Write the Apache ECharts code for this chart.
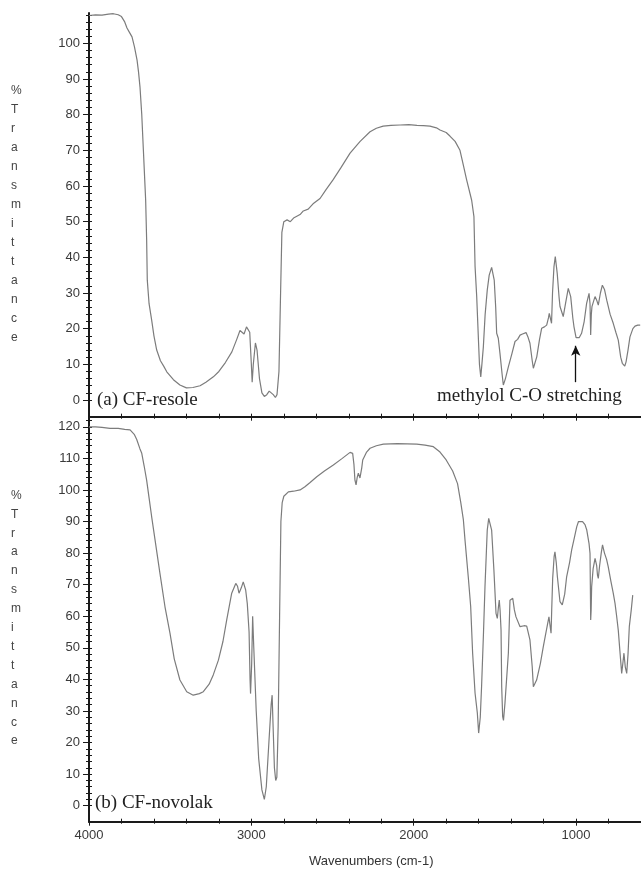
<!DOCTYPE html>
<html>
<head>
<meta charset="utf-8">
<title>FTIR spectra</title>
<script src="https://cdn.jsdelivr.net/npm/echarts@6/dist/echarts.min.js"></script>
<style>
  html, body { margin: 0; padding: 0; background: #fff; }
  #chart { width: 641px; height: 871px; }
</style>
</head>
<body>
<div id="chart"></div>
<script>
/* FTIR spectra of the two resins */

// (a) CF-resole : wavenumber (cm-1) and %T
var resoleWave = [4000, 3960, 3920, 3880, 3850, 3820, 3800, 3780, 3766, 3750, 3735, 3720, 3704, 3695, 3686, 3675, 3665, 3657, 3651, 3645,
  3641, 3630, 3614, 3600, 3583, 3560, 3540, 3521, 3480, 3440, 3400, 3360, 3316, 3280, 3234, 3200, 3160, 3120, 3090, 3070,
  3060, 3045, 3030, 3020, 3010, 3000, 2995, 2988, 2975, 2965, 2950, 2935, 2920, 2905, 2890, 2878, 2865, 2852, 2842, 2830,
  2820, 2812, 2800, 2780, 2760, 2740, 2720, 2700, 2680, 2650, 2620, 2577, 2540, 2497, 2450, 2392, 2330, 2269, 2230, 2188,
  2140, 2084, 2030, 1980, 1940, 1900, 1860, 1838, 1800, 1777, 1745, 1715, 1695, 1674, 1643, 1629, 1622, 1612, 1602, 1595,
  1587, 1580, 1571, 1560, 1547, 1535, 1520, 1504, 1495, 1489, 1479, 1469, 1455, 1448, 1435, 1417, 1395, 1376, 1360, 1345,
  1330, 1308, 1295, 1284, 1270, 1263, 1242, 1225, 1212, 1195, 1181, 1170, 1165, 1151, 1145, 1136, 1128, 1116, 1105, 1099,
  1079, 1065, 1048, 1033, 1020, 1013, 1000, 992, 980, 966, 950, 935, 920, 914, 910, 906, 902, 890, 883, 873,
  863, 850, 838, 825, 811, 790, 771, 755, 740, 725, 715, 705, 700, 692, 680, 668, 650, 637, 620, 605];
var resoleT = [107.8, 108.0, 107.9, 108.2, 108.3, 108.0, 107.5, 106, 104.3, 103, 101.8, 99, 95.3, 92, 87.8, 80, 70, 62, 56, 45,
  33.6, 27, 22.4, 18, 14, 11, 9.5, 7.9, 5.7, 4.2, 3.4, 3.5, 4.0, 5, 6.5, 8, 10.5, 13.5, 17, 19.5,
  19.8, 18.5, 20.5, 21, 19, 10, 5, 10, 16, 14, 6, 2, 1, 1.5, 2.5, 3, 1.5, 0.7, 1.5, 8,
  30, 47, 50, 50.5, 50, 51, 51.5, 52, 53, 53.5, 55, 56.5, 59, 61.7, 65, 69.2, 72.5, 75.2, 76.2, 76.8,
  77, 77.1, 77.2, 77.0, 76.9, 76.8, 76.3, 75.7, 75, 74, 72.5, 70, 66, 61.7, 56, 51.4, 37.4, 29, 17.7, 10,
  6.5, 10, 14.9, 24, 30.8, 35, 37.2, 33.6, 26, 18.7, 17.3, 13.2, 7, 4.2, 6, 9.3, 13, 16.4, 17, 18.2,
  18.5, 18.9, 17.5, 15.9, 11, 8.9, 12.1, 17, 20.1, 20.5, 21, 23, 24.3, 21.5, 30, 37.4, 40.2, 35.5, 29, 26.2,
  23.4, 27, 31.3, 29, 23, 20.6, 17.5, 17, 17.5, 18.7, 22, 27.1, 29.9, 27, 18.2, 24, 26.2, 28, 29, 28,
  26.6, 30, 32.2, 31, 28, 24, 21.5, 19, 16.8, 12, 10.3, 10.5, 9.5, 10.7, 14, 17.7, 20, 20.7, 21, 21];

// (b) CF-novolak : wavenumber (cm-1) and %T
var novolakWave = [4000, 3960, 3920, 3871, 3820, 3780, 3747, 3720, 3706, 3686, 3675, 3660, 3645, 3630, 3614, 3593, 3563, 3532, 3501, 3475,
  3440, 3398, 3358, 3320, 3296, 3260, 3234, 3203, 3175, 3152, 3121, 3096, 3085, 3076, 3062, 3050, 3035, 3025, 3014, 3008,
  3005, 2998, 2992, 2985, 2970, 2955, 2935, 2920, 2908, 2892, 2878, 2872, 2866, 2858, 2850, 2843, 2835, 2826, 2818, 2810,
  2800, 2772, 2740, 2700, 2670, 2640, 2597, 2550, 2495, 2440, 2392, 2376, 2368, 2362, 2355, 2348, 2341, 2331, 2320, 2314,
  2290, 2269, 2230, 2187, 2100, 2040, 1981, 1930, 1879, 1838, 1800, 1760, 1730, 1710, 1694, 1684, 1664, 1649, 1637, 1622,
  1608, 1600, 1595, 1590, 1582, 1570, 1561, 1547, 1538, 1530, 1520, 1506, 1493, 1485, 1478, 1473, 1468, 1462, 1458, 1452,
  1447, 1438, 1417, 1407, 1398, 1390, 1380, 1370, 1345, 1320, 1304, 1284, 1270, 1263, 1255, 1243, 1220, 1202, 1185, 1167,
  1160, 1154, 1150, 1144, 1135, 1130, 1122, 1115, 1099, 1085, 1070, 1058, 1040, 1027, 1010, 996, 985, 975, 960, 945,
  934, 920, 914, 912, 910, 907, 904, 895, 883, 873, 868, 863, 855, 845, 837, 825, 812, 802, 785, 771,
  760, 750, 740, 730, 719, 712, 705, 697, 688, 680, 672, 660, 651];
var novolakT = [120, 120, 119.8, 119.5, 119.5, 119.2, 119, 117.5, 116, 113, 111.6, 107.5, 103.1, 97.5, 91.5, 84.1, 73.6, 63, 54.6, 46.5,
  39.8, 36.1, 35, 35.5, 36.1, 38.5, 41.5, 46.1, 52, 58.8, 67.3, 70.4, 69.5, 67.3, 69, 70.9, 68.3, 64, 55, 40,
  35.5, 45, 60, 50, 30, 15, 5, 2, 6, 20, 32, 35, 25, 12, 8, 9, 25, 60, 90, 96,
  98, 99.4, 99.6, 100, 101, 102.3, 104.2, 106, 107.9, 110, 111.9, 111.6, 108, 103.1, 101.6, 104, 105.3, 103.8, 107, 109.5,
  112, 113.2, 114, 114.5, 114.7, 114.6, 114.5, 114.2, 113.7, 112, 109.5, 106, 102, 96, 90.5, 84.1, 72.5, 63, 48.3, 35.6,
  29.3, 23, 22.5, 28, 37.7, 55, 69.3, 87.3, 91, 91, 87.3, 74.6, 60.9, 59.3, 63, 65.1, 62, 55.6, 37.7, 28.2,
  27, 32.4, 48.3, 65.1, 65.5, 65.7, 62, 59.8, 56.7, 57, 56.9, 52.5, 44, 37.7, 38, 39.8, 45, 50.3, 55, 59.8,
  57, 54.6, 62, 72, 79, 80.4, 77, 72.5, 64.6, 63.6, 67, 72.5, 77, 81, 85, 88.3, 90, 90.5, 90, 89,
  87.3, 83, 79.9, 70, 58.8, 62, 69.3, 75, 78.3, 76, 73, 72, 76, 80, 82.6, 80, 78, 75.7, 71, 67.3,
  64.1, 60, 55.6, 49, 41.9, 45, 48.3, 44, 41.9, 48, 56.7, 62, 66.7];

// tick labels
var topYLabels = [0, 10, 20, 30, 40, 50, 60, 70, 80, 90, 100];
var bottomYLabels = [0, 10, 20, 30, 40, 50, 60, 70, 80, 90, 100, 110, 120];
var xLabels = [4000, 3000, 2000, 1000];

// arrow for the methylol C-O band (wavenumber, %T from, %T to)
var arrowWave = 1002, arrowFrom = 5, arrowTo = 15.2;

var chart = echarts.init(document.getElementById('chart'), null, { renderer: 'canvas' });

var AXIS_COLOR = '#1a1a1a';
var LABEL_COLOR = '#3a3a3a';
var SANS = 'Liberation Sans, Arial, sans-serif';
var SERIF = 'Liberation Serif, Times New Roman, serif';

// minor tick positions
function steps(from, to, step) {
    var out = [];
    for (var v = from; v <= to + 1e-9; v += step) out.push(v);
    return out;
}
var xMinor = steps(800, 4000, 200);
var topYMinor = steps(0, 108, 2);
var bottomYMinor = steps(0, 122, 2);

var X_MIN = 600, X_MAX = 4000;

function plain(v) { return String(Math.round(v)); }

function xAxes(grid, showLabels) {
    var base = {
        type: 'value', gridIndex: grid, min: X_MIN, max: X_MAX, inverse: true, position: 'bottom',
        splitLine: { show: false }
    };
    return [
        Object.assign({}, base, {
            axisLine: { show: true, onZero: false, lineStyle: { color: AXIS_COLOR, width: 2 } },
            axisTick: { show: true, inside: false, length: 4, customValues: xLabels, lineStyle: { color: AXIS_COLOR, width: 1 } },
            axisLabel: { show: showLabels, customValues: xLabels, formatter: plain, margin: 7, color: LABEL_COLOR, fontSize: 13, fontFamily: SANS }
        }),
        Object.assign({}, base, {
            axisLine: { show: false, onZero: false },
            axisTick: { show: true, inside: false, length: 2, customValues: xMinor, lineStyle: { color: AXIS_COLOR, width: 1 } },
            axisLabel: { show: false }
        }),
        Object.assign({}, base, {
            axisLine: { show: false, onZero: false },
            axisTick: { show: true, inside: true, length: 3, customValues: xMinor, lineStyle: { color: AXIS_COLOR, width: 1 } },
            axisLabel: { show: false }
        })
    ];
}

function yAxes(grid, min, max, labels, minor) {
    var base = { type: 'value', gridIndex: grid, min: min, max: max, position: 'left', splitLine: { show: false } };
    return [
        Object.assign({}, base, {
            axisLine: { show: true, onZero: false, lineStyle: { color: AXIS_COLOR, width: 2 } },
            axisTick: { show: true, inside: false, length: 6, customValues: labels, lineStyle: { color: AXIS_COLOR, width: 1 } },
            axisLabel: { show: true, customValues: labels, formatter: plain, margin: 9, color: LABEL_COLOR, fontSize: 13, fontFamily: SANS }
        }),
        Object.assign({}, base, {
            axisLine: { show: false, onZero: false },
            axisTick: { show: true, inside: false, length: 3, customValues: minor, lineStyle: { color: AXIS_COLOR, width: 1 } },
            axisLabel: { show: false }
        }),
        Object.assign({}, base, {
            axisLine: { show: false, onZero: false },
            axisTick: { show: true, inside: true, length: 3, customValues: minor, lineStyle: { color: AXIS_COLOR, width: 1 } },
            axisLabel: { show: false }
        })
    ];
}

function pairs(xs, ys) {
    return xs.map(function (x, i) { return [x, ys[i]]; });
}

// vertical "%Transmittance" label, one letter per line
var yTitle = '%Transmittance'.split('').join('\n');

var option = {
    animation: false,
    backgroundColor: '#ffffff',
    grid: [
        { left: 89, right: 0, top: 13, height: 403.7, outerBoundsMode: 'none' },
        { left: 89, right: 0, top: 416.7, height: 405, outerBoundsMode: 'none' }
    ],
    xAxis: xAxes(0, false).concat(xAxes(1, true)),
    yAxis: yAxes(0, -4.68, 108.5, topYLabels, topYMinor).concat(yAxes(1, -5.07, 123.2, bottomYLabels, bottomYMinor)),
    series: [
        {
            name: 'CF-resole', type: 'line', xAxisIndex: 0, yAxisIndex: 0,
            showSymbol: false, symbol: 'none', smooth: false,
            lineStyle: { color: '#7c7c7c', width: 1.2 },
            data: pairs(resoleWave, resoleT),
            markLine: {
                silent: true, symbol: ['none', 'arrow'], symbolSize: [7, 10],
                label: { show: false },
                lineStyle: { color: '#111', width: 1.3, type: 'solid' },
                data: [[{ coord: [arrowWave, arrowFrom] }, { coord: [arrowWave, arrowTo] }]]
            }
        },
        {
            name: 'CF-novolak', type: 'line', xAxisIndex: 3, yAxisIndex: 3,
            showSymbol: false, symbol: 'none', smooth: false,
            lineStyle: { color: '#7c7c7c', width: 1.2 },
            data: pairs(novolakWave, novolakT)
        }
    ],
    graphic: [
        { type: 'text', left: 11, top: 81, style: { text: yTitle, fontSize: 12, lineHeight: 19, fontFamily: SANS, fill: '#444', align: 'center' } },
        { type: 'text', left: 11, top: 486, style: { text: yTitle, fontSize: 12, lineHeight: 18.9, fontFamily: SANS, fill: '#444', align: 'center' } },
        { type: 'text', left: 97, top: 391, style: { text: '(a) CF-resole', fontSize: 19, fontFamily: SERIF, fill: '#222' } },
        { type: 'text', left: 95, top: 794, style: { text: '(b) CF-novolak', fontSize: 19, fontFamily: SERIF, fill: '#222' } },
        { type: 'text', left: 437, top: 387, style: { text: 'methylol C-O stretching', fontSize: 19, fontFamily: SERIF, fill: '#222' } },
        { type: 'text', left: 309, top: 855, style: { text: 'Wavenumbers (cm-1)', fontSize: 13, fontFamily: SANS, fill: '#333' } }
    ]
};

chart.setOption(option);
</script>
</body>
</html>
